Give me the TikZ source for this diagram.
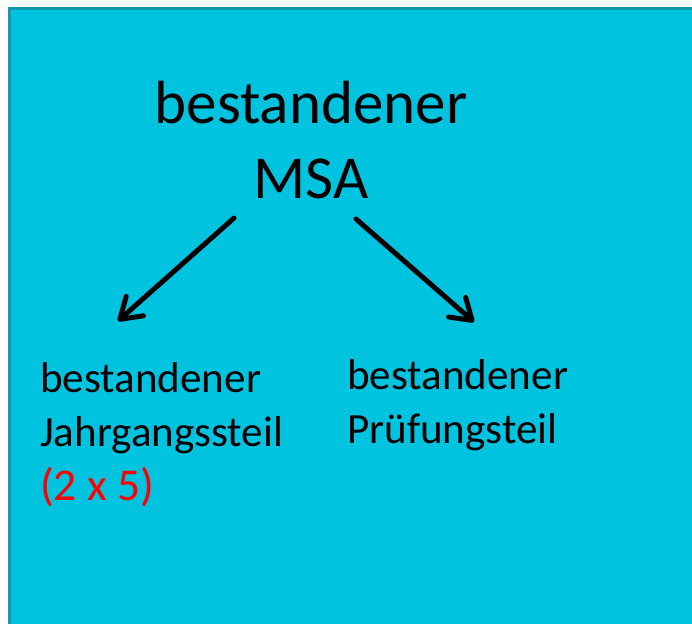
\documentclass[tikz,border=0pt]{standalone}
\usepackage{fontspec}
\setmainfont{Carlito}
\usetikzlibrary{arrows.meta}
\definecolor{bgcyan}{RGB}{0,195,224}
\definecolor{bordercyan}{RGB}{20,152,172}
\definecolor{msared}{RGB}{255,0,0}
\tikzset{
  bigtext/.style={font=\fontsize{61}{75}\selectfont, align=center, inner sep=0pt, anchor=base},
  smalltext/.style={font=\fontsize{43.1}{54}\selectfont, align=left, inner sep=0pt, anchor=base west},
  arrowline/.style={line width=5pt, line cap=round, -{Straight Barb[round, length=20pt, width=26pt]}}
}
\begin{document}
\begin{tikzpicture}[x=1pt,y=-1pt]
\useasboundingbox (0,0) rectangle (692,623);
\draw[fill=bgcyan, draw=bordercyan, line width=3pt] (9.5,8.5) rectangle (700,640);
\node[bigtext] (top) at (311,198) {bestandener\\MSA};
\node[smalltext] (left) at (40,500) {bestandener\\Jahrgangssteil\\\textcolor{msared}{\fontsize{45.5}{54}\selectfont(2 x 5)}};
\node[smalltext] (right) at (347,443) {bestandener\\Prüfungsteil};
\coordinate (la) at (234,218);
\coordinate (lb) at (118,321);
\coordinate (ra) at (356,219);
\coordinate (rb) at (474,322);
\draw[arrowline] (la) -- (lb);
\draw[arrowline] (ra) -- (rb);
\end{tikzpicture}
\end{document}
